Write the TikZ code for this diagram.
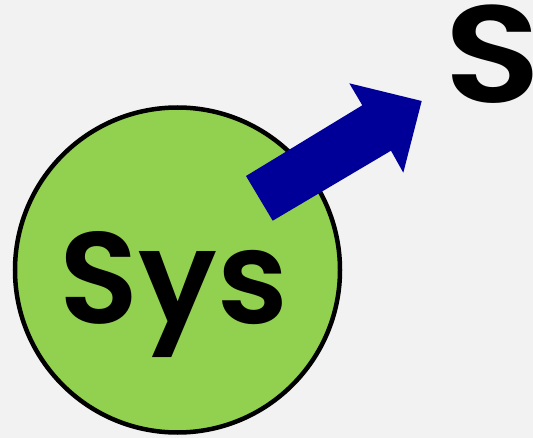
\documentclass[tikz,border=0pt]{standalone}
\usepackage{fontspec}
\setmainfont[BoldFont={Poppins SemiBold}]{Poppins}
\begin{document}
\begin{tikzpicture}[x=1pt,y=-1pt,
  bigtext/.style={font=\fontsize{130}{130}\selectfont\bfseries, inner sep=0pt, text=black},
  sysdisk/.style={circle, draw=black, line width=4.5pt, fill=sysgreen, minimum size=325pt, inner sep=0pt}]
\definecolor{sysgreen}{HTML}{92D050}
\definecolor{arrowblue}{HTML}{000099}
\definecolor{bg}{HTML}{F2F2F2}
\fill[bg] (0,0) rectangle (533,438);
\useasboundingbox (0,0) rectangle (533,438);
\node[sysdisk] (sys) at (177.5,270) {};
% outgoing block arrow
\fill[arrowblue] (246,176) -- (362.3,105.3) -- (349.3,83.3) -- (421.7,101)
  -- (403.3,172.7) -- (391,150.7) -- (272.7,220.7) -- cycle;
\node[bigtext, anchor=base] (syslabel) at (174,324) {Sys};
\node[bigtext, anchor=base west, xscale=1.15, font=\fontsize{138}{138}\selectfont\bfseries] (s) at (444,103) {S};
\end{tikzpicture}
\end{document}
